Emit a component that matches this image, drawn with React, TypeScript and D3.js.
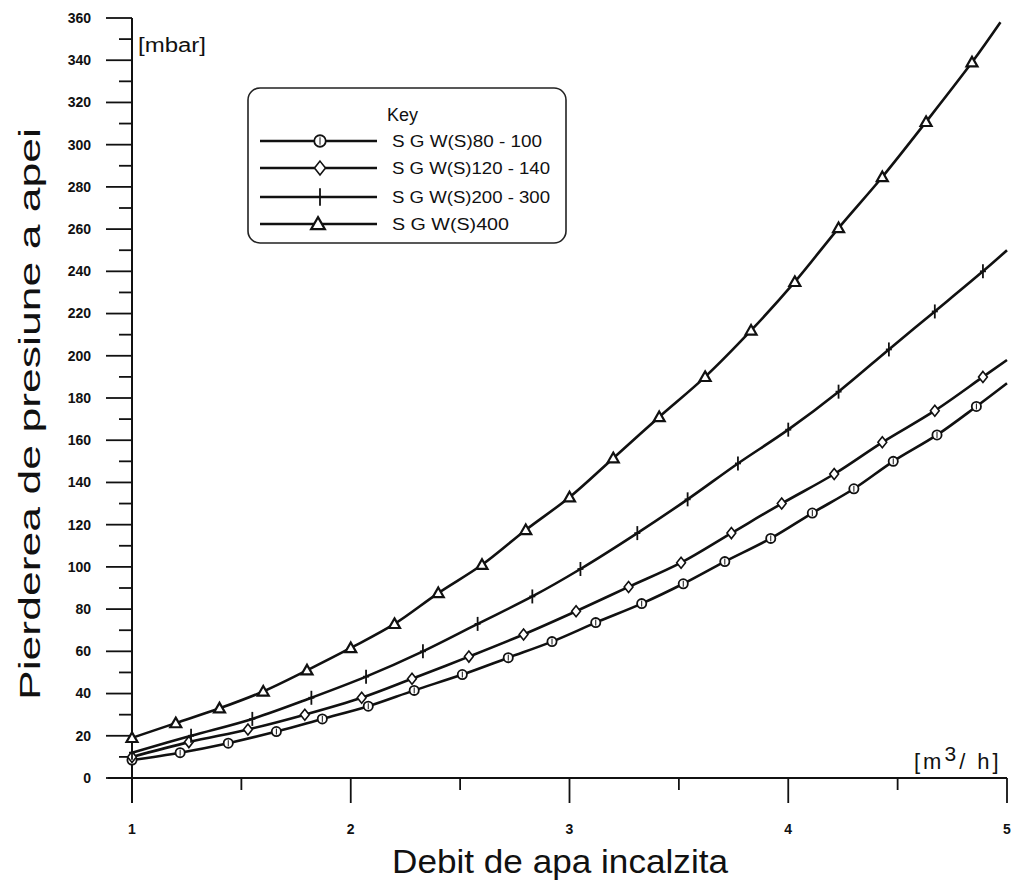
import React from "react";
import * as d3 from "d3";

// ---- data ----
const seriesNames = ["S G W(S)80 - 100", "S G W(S)120 - 140", "S G W(S)200 - 300", "S G W(S)400"];

const sgw80X = [1.0, 1.22, 1.44, 1.66, 1.87, 2.08, 2.29, 2.51, 2.72, 2.92, 3.12, 3.33, 3.52, 3.71, 3.92, 4.11, 4.3, 4.48, 4.68, 4.86, 5.0];
const sgw80Y = [8.5, 12, 16.5, 22, 28, 34, 41.5, 49, 57, 64.6, 73.6, 82.6, 92, 102.5, 113.5, 125.5, 137, 150, 162.5, 176, 187];

const sgw120X = [1.0, 1.26, 1.53, 1.79, 2.05, 2.28, 2.54, 2.79, 3.03, 3.27, 3.51, 3.74, 3.97, 4.21, 4.43, 4.67, 4.89, 5.0];
const sgw120Y = [10, 17, 23, 30, 38, 47, 57.5, 68, 79, 90.5, 102, 116, 130, 144, 159, 174, 190, 198];

const sgw200X = [1.0, 1.27, 1.55, 1.82, 2.07, 2.33, 2.58, 2.83, 3.05, 3.31, 3.54, 3.77, 4.0, 4.23, 4.46, 4.67, 4.89, 5.0];
const sgw200Y = [12, 20, 28, 38, 48, 60, 73, 86, 99, 116, 132, 149, 165, 183, 203, 221, 240, 250];

const sgw400X = [1.0, 1.2, 1.4, 1.6, 1.8, 2.0, 2.2, 2.4, 2.6, 2.8, 3.0, 3.2, 3.41, 3.62, 3.83, 4.03, 4.23, 4.43, 4.63, 4.84, 4.97];
const sgw400Y = [19, 26, 33, 41, 51, 61.6, 73, 87.6, 101, 117.5, 133, 151.5, 171, 190, 212, 235, 260.5, 284.7, 310.8, 339, 358];

const yMajorTicks = d3.range(0, 361, 20);
const yMinorTicks = d3.range(10, 360, 20);
const xMajorTicks = [1, 2, 3, 4, 5];
const xMinorTicks = [1.5, 2.5, 3.5, 4.5];

const FONT = "'Liberation Sans', Arial, sans-serif";

type Shape = "circle" | "diamond" | "plus" | "triangle";
const shapes: Shape[] = ["circle", "diamond", "plus", "triangle"];

function Marker({ shape, x, y, big }: { shape: Shape; x: number; y: number; big?: boolean }) {
  const k = big ? 1.25 : 1;
  if (shape === "circle") {
    return (
      <g>
        <circle cx={x} cy={y} r={4.6 * k} fill="white" stroke="#111" strokeWidth={1.8} />
        <line x1={x} x2={x} y1={y - 3 * k} y2={y + 3 * k} stroke="#111" strokeWidth={1} />
      </g>
    );
  }
  if (shape === "diamond") {
    const s = 5.5 * k;
    return (
      <path
        d={`M${x},${y - s}L${x + s * 0.8},${y}L${x},${y + s}L${x - s * 0.8},${y}Z`}
        fill="white"
        stroke="#111"
        strokeWidth={1.6}
      />
    );
  }
  if (shape === "plus") {
    return (
      <g stroke="#111" strokeWidth={1.8}>
        <line x1={x} x2={x} y1={y - 7 * k} y2={y + 7 * k} />
        <line x1={x - 3} x2={x + 3} y1={y} y2={y} />
      </g>
    );
  }
  const s = 5.5 * k;
  return (
    <path
      d={`M${x},${y - s}L${x + s},${y + s * 0.75}L${x - s},${y + s * 0.75}Z`}
      fill="white"
      stroke="#111"
      strokeWidth={2.2}
    />
  );
}

export default function App() {
  const x = d3.scaleLinear().domain([1, 5]).range([132, 1007]);
  const y = d3.scaleLinear().domain([0, 360]).range([778, 18]);

  const series = [
    { xs: sgw80X, ys: sgw80Y },
    { xs: sgw120X, ys: sgw120Y },
    { xs: sgw200X, ys: sgw200Y },
    { xs: sgw400X, ys: sgw400Y },
  ];

  const line = d3
    .line<[number, number]>()
    .x((d) => x(d[0]))
    .y((d) => y(d[1]))
    .curve(d3.curveCatmullRom.alpha(0.5));

  const axisX = x(1);
  const axisY = y(0);

  const legendRowsY = [141, 168, 197, 224];
  const legendTextLen = [150, 158, 158, 117];

  return (
    <svg
      width={1011}
      height={882}
      style={{ position: "absolute", left: 0, top: 0, background: "white" }}
      fontFamily={FONT}
    >
      <rect x={0} y={0} width={1011} height={882} fill="white" />

      {/* Y axis */}
      <line x1={axisX} x2={axisX} y1={y(360)} y2={axisY + 25} stroke="#111" strokeWidth={2} />
      {yMajorTicks.map((t) => (
        <g key={"ym" + t}>
          <line x1={axisX - 26} x2={axisX} y1={y(t)} y2={y(t)} stroke="#111" strokeWidth={1.8} />
          <text
            x={91}
            y={y(t)}
            dy="0.35em"
            textAnchor="end"
            fontSize={14}
            fontWeight="bold"
            fill="#111"
          >
            {t}
          </text>
        </g>
      ))}
      {yMinorTicks.map((t) => (
        <line key={"yn" + t} x1={axisX - 13} x2={axisX} y1={y(t)} y2={y(t)} stroke="#111" strokeWidth={1.8} />
      ))}

      {/* X axis */}
      <line x1={axisX - 24} x2={x(5)} y1={axisY} y2={axisY} stroke="#111" strokeWidth={1.8} />
      {xMajorTicks.map((t) => (
        <g key={"xm" + t}>
          <line x1={x(t)} x2={x(t)} y1={axisY} y2={axisY + 25} stroke="#111" strokeWidth={1.8} />
          <text x={x(t)} y={829} dy="0.35em" textAnchor="middle" fontSize={14} fontWeight="bold" fill="#111">
            {t}
          </text>
        </g>
      ))}
      {xMinorTicks.map((t) => (
        <line key={"xn" + t} x1={x(t)} x2={x(t)} y1={axisY} y2={axisY + 12} stroke="#111" strokeWidth={1.8} />
      ))}

      {/* unit labels */}
      <text x={138} y={52} fontSize={20} fill="#111" textLength={68} lengthAdjust="spacingAndGlyphs">
        [mbar]
      </text>
      <text x={914} y={769} fontSize={22} fill="#111" letterSpacing={3}>
        [m<tspan dy={-8} fontSize={21}>3</tspan>
        <tspan dy={8}>/ h]</tspan>
      </text>

      {/* axis titles */}
      <text
        transform={`translate(40,414) rotate(-90)`}
        textAnchor="middle"
        fontSize={30}
        fill="#111"
        textLength={572}
        lengthAdjust="spacingAndGlyphs"
      >
        Pierderea de presiune a apei
      </text>
      <text
        x={560}
        y={873}
        textAnchor="middle"
        fontSize={33}
        fill="#111"
        textLength={336}
        lengthAdjust="spacingAndGlyphs"
      >
        Debit de apa incalzita
      </text>

      {/* curves */}
      {series.map((s, i) => {
        const pts = s.xs.map((v, j) => [v, s.ys[j]] as [number, number]);
        return (
          <g key={"s" + i}>
            <path d={line(pts) || ""} fill="none" stroke="#111" strokeWidth={2.6} />
            {pts.slice(0, pts.length - 1).map((p, j) => (
              <Marker key={j} shape={shapes[i]} x={x(p[0])} y={y(p[1])} />
            ))}
          </g>
        );
      })}

      {/* legend */}
      <rect x={248} y={88} width={318} height={155} rx={12} ry={12} fill="white" stroke="#222" strokeWidth={1.6} />
      <text x={387} y={121} fontSize={18} fill="#111">
        Key
      </text>
      {seriesNames.map((name, i) => (
        <g key={"l" + i}>
          <line x1={260} x2={377} y1={legendRowsY[i]} y2={legendRowsY[i]} stroke="#111" strokeWidth={2.6} />
          <Marker shape={shapes[i]} x={i === 3 ? 318 : 320} y={legendRowsY[i]} big />
          <text
            x={392}
            y={legendRowsY[i]}
            dy="0.36em"
            fontSize={16}
            fill="#111"
            textLength={legendTextLen[i]}
            lengthAdjust="spacingAndGlyphs"
          >
            {name}
          </text>
        </g>
      ))}
    </svg>
  );
}
